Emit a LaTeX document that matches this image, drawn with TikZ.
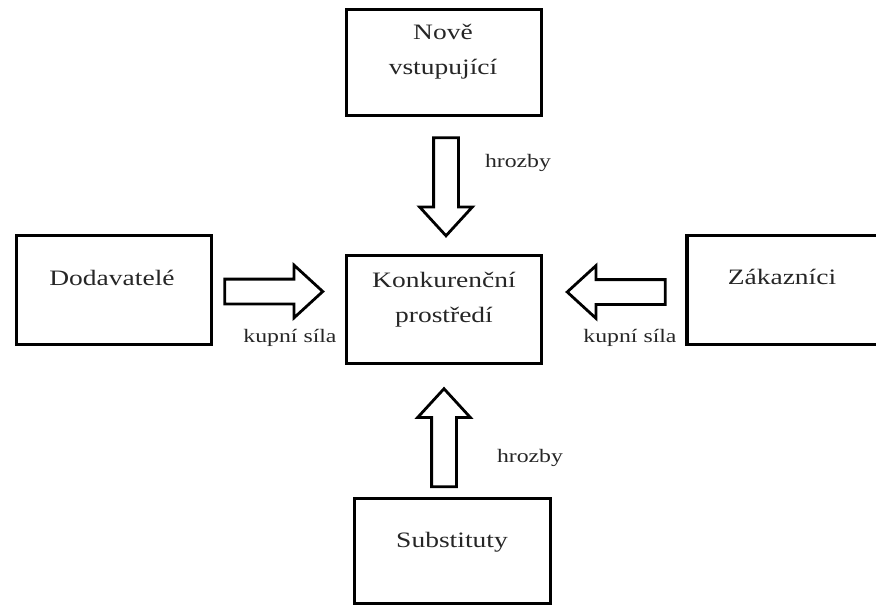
\documentclass[tikz,border=0pt]{standalone}
\usepackage{fontspec}
\setmainfont[FakeStretch=1.25]{Liberation Serif}
\usetikzlibrary{shapes.arrows}
\begin{document}
\begin{tikzpicture}[x=1pt, y=-1pt,
  forcebox/.style={draw, line width=3.2pt, rectangle, inner sep=0pt},
  boxtext/.style={align=center, font=\fontsize{22}{35}\selectfont, text=black!85},
  forcelabel/.style={font=\fontsize{19}{22}\selectfont, text=black!85},
  fatarrow/.style={draw, line width=2.8pt, single arrow, inner sep=11pt,
    text height=0pt, text depth=0pt, single arrow head extend=14pt, single arrow tip angle=85,
    minimum height=98pt}]
\useasboundingbox (0,0) rectangle (876,607);
\clip (0,0) rectangle (876,607);
\node[forcebox, minimum width=195pt, minimum height=106pt] (nove) at (444,62.5){};
\node[boxtext] (novetext) at (443,52){Nově\\vstupující};
\node[forcebox, minimum width=195pt, minimum height=108pt] (konk) at (444,309.5){};
\node[boxtext] (konktext) at (444,300){Konkurenční\\prostředí};
\node[forcebox, minimum width=195pt, minimum height=109pt] (dod) at (114,290){};
\node[boxtext] (dodtext) at (112,278){Dodavatelé};
\node[forcebox, minimum width=194pt, minimum height=109pt] (zak) at (784,290){};
\node[boxtext] (zaktext) at (782,277){Zákazníci};
\node[forcebox, minimum width=196pt, minimum height=105pt] (subst) at (452.5,551){};
\node[boxtext] (substtext) at (452,542){Substituty};
\node[fatarrow, shape border rotate=270] (novearrow) at (446,180){};
\node[fatarrow, shape border rotate=90] (substarrow) at (444,444.5){};
\node[fatarrow] (dodarrow) at (267,291.5){};
\node[fatarrow, shape border rotate=180] (zakarrow) at (623,292){};
\node[forcelabel] (novelabel) at (518,163){hrozby};
\node[forcelabel] (substlabel) at (530,458){hrozby};
\node[forcelabel] (dodlabel) at (290,338){kupní síla};
\node[forcelabel] (zaklabel) at (630,338){kupní síla};
\end{tikzpicture}
\end{document}
